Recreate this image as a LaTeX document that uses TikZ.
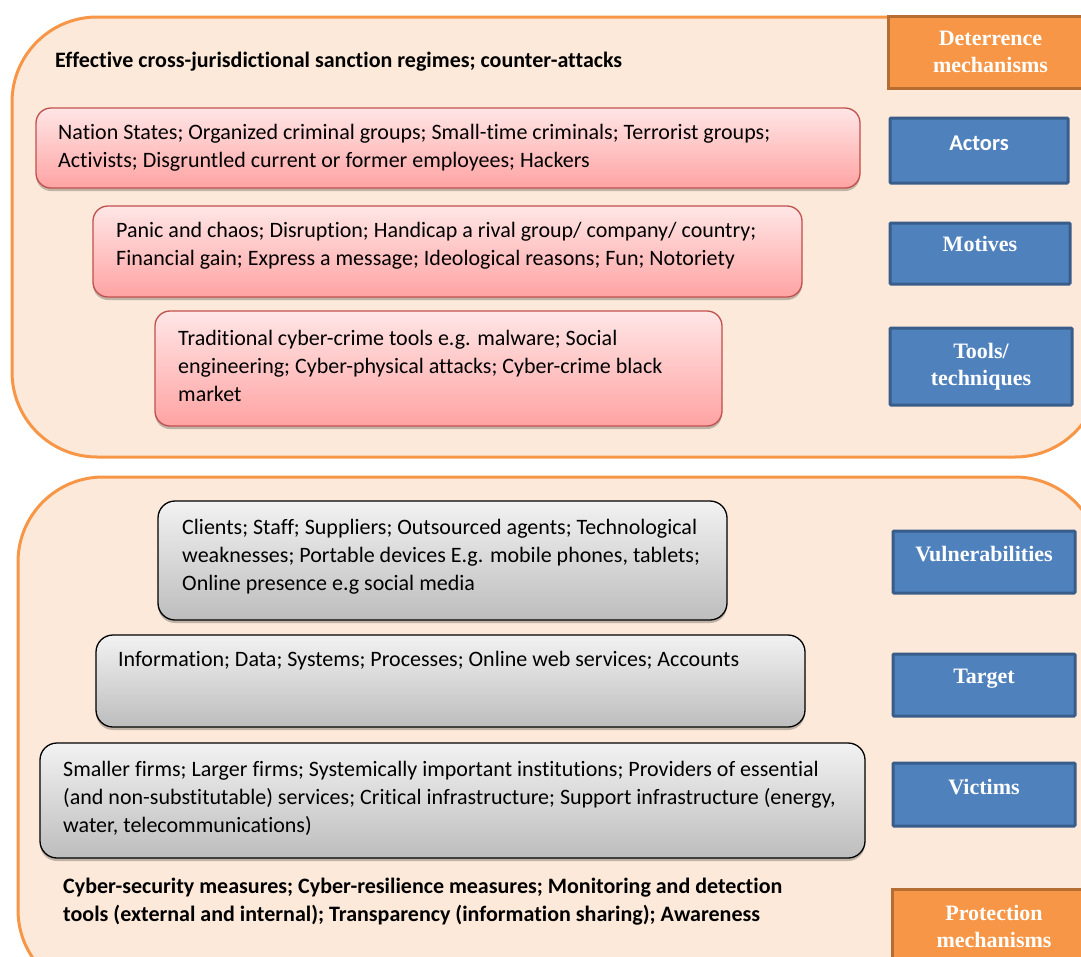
\documentclass[tikz,border=0pt]{standalone}
\usepackage{fontspec}
\setmainfont{Carlito}[Ligatures=NoCommon]
\newfontfamily\labfont{Liberation Serif}
\usetikzlibrary{shadows}
\definecolor{peach}{HTML}{FDE9D9}
\definecolor{orangeline}{HTML}{F79646}
\definecolor{orangedark}{HTML}{B66D31}
\definecolor{bluefill}{HTML}{4F81BD}
\definecolor{blueline}{HTML}{385D8A}
\definecolor{pinktop}{HTML}{FFE6E6}
\definecolor{pinkbot}{HTML}{FFA3A3}
\definecolor{pinkline}{HTML}{C0504D}
\definecolor{graytop}{HTML}{F2F2F2}
\definecolor{graybot}{HTML}{BDBDBD}
\begin{document}
\begin{tikzpicture}[x=1pt,y=-1pt,
  panel/.style={draw=orangeline, line width=3pt, fill=peach, rounded corners=85pt},
  pinkbox/.style={draw=pinkline, line width=1.3pt, rounded corners=15pt, top color=pinktop, bottom color=pinkbot,
     drop shadow={shadow xshift=0pt, shadow yshift=-3pt, opacity=0.35, fill=black!70}, inner sep=0},
  graybox/.style={draw=black, line width=1.3pt, rounded corners=17pt, top color=graytop, bottom color=graybot,
     drop shadow={shadow xshift=0pt, shadow yshift=-3pt, opacity=0.35, fill=black!70}, inner sep=0},
  bluebox/.style={draw=blueline, fill=bluefill, line width=3pt, inner sep=0, rounded corners=1pt},
  orangebox/.style={draw=orangedark, fill=orangeline, line width=3pt, inner sep=0},
  bodytext/.style={anchor=west, align=left, inner sep=0, font=\fontsize{22}{28}\selectfont},
  boldtext/.style={anchor=west, align=left, inner sep=0, font=\fontsize{22}{28}\selectfont\bfseries},
  labtext/.style={align=center, inner sep=0, text=white, font=\labfont\fontsize{22}{27}\selectfont\bfseries},
  labsans/.style={align=center, inner sep=0, text=white, font=\fontsize{22.5}{27}\selectfont\bfseries}
]
\useasboundingbox (0,0) rectangle (1081,956);
\clip (0,0) rectangle (1081,956);
% panels
\draw[panel] (12,17) rectangle (1100,457);
\draw[panel] (18,477) rectangle (1100,995);

% right-hand label boxes
\node[orangebox, minimum width=205pt, minimum height=72pt] (deter) at (990.5,52) {};
\node[labtext] (deterl) at (990.5,52) {Deterrence\\mechanisms};
\node[bluebox, minimum width=178pt, minimum height=65pt] (actors) at (979,150.5) {};
\node[labsans] (actorsl) at (979,143) {Actors};
\node[bluebox, minimum width=180pt, minimum height=61pt] (motives) at (980,253.5) {};
\node[labtext] (motivesl) at (980,244) {Motives};
\node[bluebox, minimum width=182pt, minimum height=77pt] (tools) at (981,366.5) {};
\node[labtext] (toolsl) at (981,367) {Tools/\\techniques};
\node[bluebox, minimum width=182pt, minimum height=62pt] (vuln) at (984,562) {};
\node[labtext] (vulnl) at (984,554) {Vulnerabilities};
\node[bluebox, minimum width=182pt, minimum height=62pt] (target) at (984,685) {};
\node[labtext] (targetl) at (984,679) {Target};
\node[bluebox, minimum width=182pt, minimum height=63pt] (victims) at (984,794.5) {};
\node[labtext] (victimsl) at (984,787) {Victims};
\node[orangebox, minimum width=204pt, minimum height=81pt] (prot) at (994,929.5) {};
\node[labtext] (protl) at (994,926) {Protection\\mechanisms};

% top text
\node[boldtext] (effective) at (55,62) {Effective cross-jurisdictional sanction regimes; counter-attacks};

% pink boxes
\node[pinkbox, minimum width=824pt, minimum height=80pt] (b1) at (448,148) {};
\node[bodytext] (t1) at (58,148) {Nation States; Organized criminal groups; Small-time criminals; Terrorist groups;\\Activists; Disgruntled current or former employees; Hackers};
\node[pinkbox, minimum width=709pt, minimum height=91pt] (b2) at (447.5,251.5) {};
\node[bodytext] (t2) at (116,246) {Panic and chaos; Disruption; Handicap a rival group/ company/ country;\\Financial gain; Express a message; Ideological reasons; Fun; Notoriety};
\node[pinkbox, minimum width=567pt, minimum height=115pt] (b3) at (438.5,368.5) {};
\node[bodytext] (t3) at (178,366) {Traditional cyber-crime tools e.g. malware; Social\\engineering; Cyber-physical attacks; Cyber-crime black\\market};

% gray boxes
\node[graybox, minimum width=569pt, minimum height=119pt] (b4) at (442.5,560.5) {};
\node[bodytext] (t4) at (182,557) {Clients; Staff; Suppliers; Outsourced agents; Technological\\weaknesses; Portable devices E.g. mobile phones, tablets;\\Online presence e.g social media};
\node[graybox, minimum width=709pt, minimum height=92pt] (b5) at (450.5,681) {};
\node[bodytext] (t5) at (118,661) {Information; Data; Systems; Processes; Online web services; Accounts};
\node[graybox, minimum width=825pt, minimum height=115pt] (b6) at (452.5,800.5) {};
\node[bodytext] (t6) at (63,798) {Smaller firms; Larger firms; Systemically important institutions; Providers of essential\\(and non-substitutable) services; Critical infrastructure; Support infrastructure (energy,\\water, telecommunications)};

% bottom text
\node[boldtext] (protect) at (63,902) {Cyber-security measures; Cyber-resilience measures; Monitoring and detection\\tools (external and internal); Transparency (information sharing); Awareness};
\end{tikzpicture}
\end{document}
